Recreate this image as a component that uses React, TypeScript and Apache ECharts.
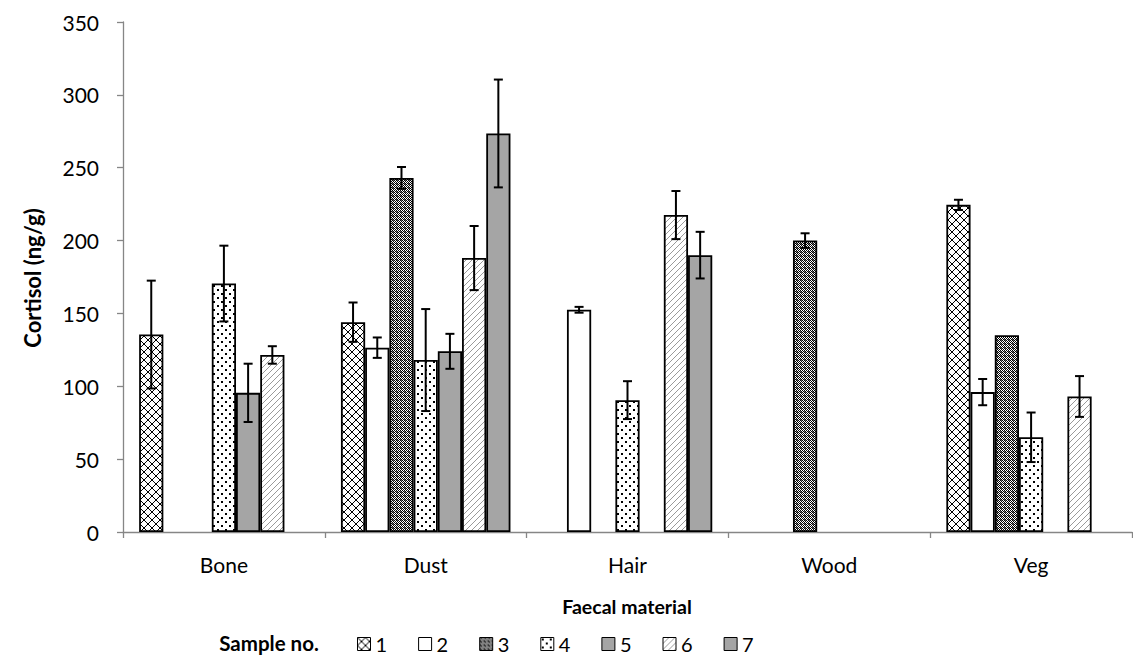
import React, { useEffect, useRef } from "react";
import * as echarts from "echarts";

// Faecal material categories and sample numbers
const categories = ["Bone", "Dust", "Hair", "Wood", "Veg"];
const sampleNames = ["1", "2", "3", "4", "5", "6", "7"];

// Mean cortisol (ng/g) per sample, one value per category
const sample1 = [135.5, 144, null, null, 224.5];
const sample2 = [null, 126.5, 152.5, null, 96];
const sample3 = [null, 243, null, 200, 135];
const sample4 = [170.5, 118, 90.5, null, 65];
const sample5 = [95.5, 124, null, null, null];
const sample6 = [121.5, 188, 217.5, null, 93];
const sample7 = [null, 273.5, 190, null, null];

// Error (±) for each mean
const error1 = [37, 13.5, null, null, 3.5];
const error2 = [null, 7, 2, null, 9];
const error3 = [null, 7.5, null, 5, 0];
const error4 = [26, 35, 13, null, 17];
const error5 = [20, 12, null, null, null];
const error6 = [6, 22, 16.5, null, 14];
const error7 = [null, 37, 16, null, null];

const yTicks = { min: 0, max: 350, interval: 50 };

const FONT = "Lato, 'Open Sans', sans-serif";
const CATEGORY_GAP = 0.16;

function tile(w: number, h: number, draw: (ctx: CanvasRenderingContext2D) => void) {
  const c = document.createElement("canvas");
  c.width = w;
  c.height = h;
  const ctx = c.getContext("2d")!;
  ctx.fillStyle = "#fff";
  ctx.fillRect(0, 0, w, h);
  draw(ctx);
  return { image: c, repeat: "repeat", imageWidth: w, imageHeight: h } as any;
}

function makeFills() {
  const cross = tile(8, 8, (ctx) => {
    ctx.strokeStyle = "#000";
    ctx.lineWidth = 1;
    ctx.beginPath();
    ctx.moveTo(0, 0);
    ctx.lineTo(8, 8);
    ctx.moveTo(8, 0);
    ctx.lineTo(0, 8);
    ctx.stroke();
  });
  const checker = tile(4, 4, (ctx) => {
    ctx.fillStyle = "#000";
    ctx.fillRect(0, 0, 1, 1);
    ctx.fillRect(2, 0, 1, 1);
    ctx.fillRect(1, 1, 1, 1);
    ctx.fillRect(3, 1, 1, 1);
    ctx.fillRect(0, 2, 1, 1);
    ctx.fillRect(2, 2, 1, 1);
    ctx.fillRect(1, 3, 1, 1);
    ctx.fillRect(3, 3, 1, 1);
    ctx.fillStyle = "#6a6a6a";
    ctx.fillRect(1, 0, 1, 1);
    ctx.fillRect(0, 3, 1, 1);
  });
  const dots = tile(8, 8, (ctx) => {
    ctx.fillStyle = "#000";
    ctx.fillRect(1, 1, 2, 2);
    ctx.fillRect(5, 5, 2, 2);
  });
  const hatch = tile(6, 6, (ctx) => {
    ctx.strokeStyle = "#9a9a9a";
    ctx.lineWidth = 1;
    ctx.beginPath();
    ctx.moveTo(0, 6);
    ctx.lineTo(6, 0);
    ctx.moveTo(-1, 1);
    ctx.lineTo(1, -1);
    ctx.moveTo(5, 7);
    ctx.lineTo(7, 5);
    ctx.stroke();
  });
  return [cross, "#ffffff", checker, dots, "#a5a5a5", hatch, "#a5a5a5"];
}

export default function App() {
  const ref = useRef<HTMLDivElement>(null);

  useEffect(() => {
    if (!ref.current) return;
    const chart = echarts.init(ref.current, null, { renderer: "svg" });

    const samples = [sample1, sample2, sample3, sample4, sample5, sample6, sample7];
    const errors = [error1, error2, error3, error4, error5, error6, error7];
    const fills = makeFills();

    const errData: number[][] = [];
    samples.forEach((vals, s) => {
      vals.forEach((v, c) => {
        const e = errors[s][c];
        if (v != null && e) errData.push([c, s, v - e, v + e]);
      });
    });

    const barSeries = samples.map((vals, s) => ({
      name: sampleNames[s],
      type: "bar",
      data: vals,
      barGap: "0%",
      barCategoryGap: `${CATEGORY_GAP * 100}%`,
      itemStyle: { color: fills[s], borderColor: "#000", borderWidth: 1.8 },
      z: 2,
    }));

    const errorSeries = {
      name: "error",
      type: "custom",
      data: errData,
      encode: { x: 0, y: [2, 3] },
      z: 5,
      renderItem: (_params: any, api: any) => {
        const c = api.value(0);
        const s = api.value(1);
        const lo = api.coord([c, api.value(2)]);
        const hi = api.coord([c, api.value(3)]);
        const band = api.size([1, 0])[0];
        const bw = (band * (1 - CATEGORY_GAP)) / samples.length;
        const x = hi[0] + (s - (samples.length - 1) / 2) * bw;
        const cap = 4.5;
        const style = { stroke: "#000", lineWidth: 2 };
        return {
          type: "group",
          children: [
            { type: "line", shape: { x1: x, y1: hi[1], x2: x, y2: lo[1] }, style },
            { type: "line", shape: { x1: x - cap, y1: hi[1], x2: x + cap, y2: hi[1] }, style },
            { type: "line", shape: { x1: x - cap, y1: lo[1], x2: x + cap, y2: lo[1] }, style },
          ],
        };
      },
    };

    chart.setOption({
      animation: false,
      backgroundColor: "#fff",
      textStyle: { fontFamily: FONT },
      grid: { left: 123, right: 1, top: 22, bottom: 123, outerBoundsMode: "none" },
      xAxis: {
        type: "category",
        data: categories,
        axisLine: { lineStyle: { color: "#868686", width: 1.3 } },
        axisTick: { show: true, length: 6, lineStyle: { color: "#868686", width: 1.3 } },
        axisLabel: { color: "#000", fontSize: 21, fontFamily: FONT, margin: 22 },
        splitLine: { show: false },
      },
      yAxis: {
        type: "value",
        min: yTicks.min,
        max: yTicks.max,
        interval: yTicks.interval,
        axisLine: { show: true, lineStyle: { color: "#868686", width: 1.3 } },
        axisTick: { show: true, length: 6, lineStyle: { color: "#868686", width: 1.3 } },
        axisLabel: { color: "#000", fontSize: 21, fontFamily: FONT, margin: 24 },
        splitLine: { show: false },
      },
      legend: {
        data: sampleNames,
        left: 357,
        top: 634,
        padding: 0,
        itemWidth: 13,
        itemHeight: 13,
        itemGap: 31,
        icon: "rect",
        itemStyle: { borderColor: "#000", borderWidth: 1 },
        textStyle: { color: "#000", fontSize: 20, fontFamily: FONT, lineHeight: 20, padding: [0, 0, 0, 0] },
      },
      graphic: [
        {
          type: "text",
          x: 32,
          y: 278,
          rotation: Math.PI / 2,
          style: {
            text: "Cortisol (ng/g)",
            fontSize: 22,
            fontWeight: "bold",
            fontFamily: FONT,
            fill: "#000",
            align: "center",
            verticalAlign: "middle",
          },
        },
        {
          type: "text",
          x: 627,
          y: 606,
          style: {
            text: "Faecal material",
            fontSize: 19.5,
            fontWeight: "bold",
            fontFamily: FONT,
            fill: "#000",
            align: "center",
            verticalAlign: "middle",
          },
        },
        {
          type: "text",
          x: 269,
          y: 643,
          style: {
            text: "Sample no.",
            fontSize: 20.5,
            fontWeight: "bold",
            fontFamily: FONT,
            fill: "#000",
            align: "center",
            verticalAlign: "middle",
          },
        },
      ],
      series: [...barSeries, errorSeries],
    });

    return () => chart.dispose();
  }, []);

  return (
    <div
      ref={ref}
      style={{ position: "absolute", left: 0, top: 0, width: 1133, height: 655, background: "#fff" }}
    />
  );
}
